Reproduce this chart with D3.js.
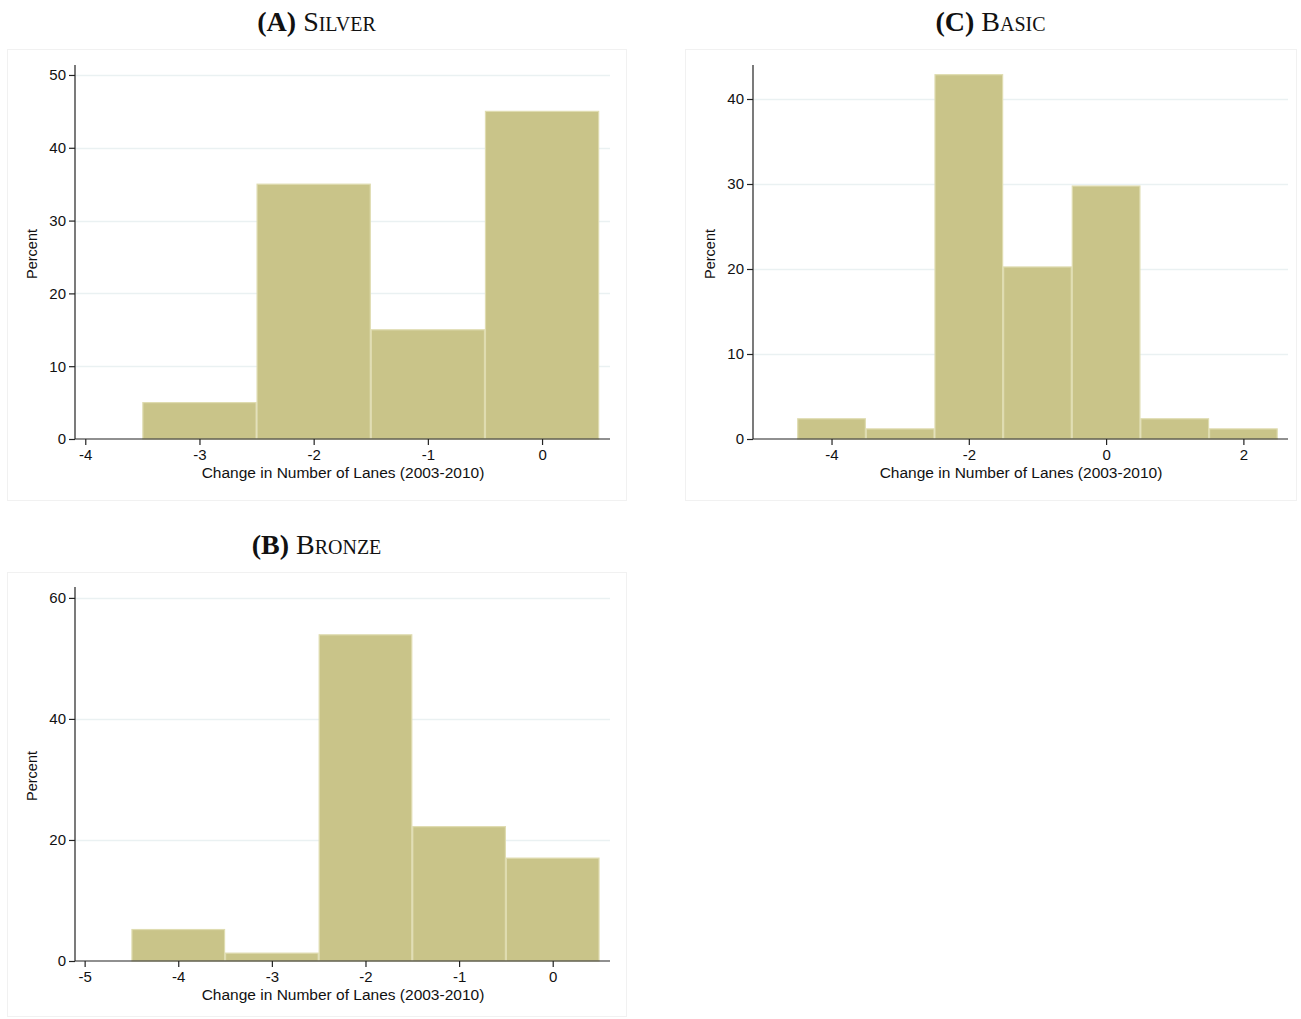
<!DOCTYPE html>
<html>
<head>
<meta charset="utf-8">
<script src="https://cdn.jsdelivr.net/npm/d3@7"></script>
<style>
  body { margin: 0; background: #fff; }
  svg { display: block; }
</style>
</head>
<body>
<script>
// Histogram data (percent of observations per bin, bins centred on integers)
const silverBins = [-3, -2, -1, 0];
const silverPct = [5, 35, 15, 45];

const bronzeBins = [-4, -3, -2, -1, 0];
const bronzePct = [5.2, 1.3, 53.9, 22.2, 17.0];

const basicBins = [-4, -3, -2, -1, 0, 1, 2];
const basicPct = [2.38, 1.19, 42.86, 20.24, 29.76, 2.38, 1.19];

const silverXTicks = [-4, -3, -2, -1, 0];
const bronzeXTicks = [-5, -4, -3, -2, -1, 0];
const basicXTicks = [-4, -2, 0, 2];

const silverYTicks = [0, 10, 20, 30, 40, 50];
const bronzeYTicks = [0, 20, 40, 60];
const basicYTicks = [0, 10, 20, 30, 40];

const xTitle = 'Change in Number of Lanes (2003-2010)';
const yTitle = 'Percent';

const barFill = '#c9c489';
const barEdge = '#dfdcb0';
const gridColor = '#eaf1f2';

const svg = d3.select('body')
    .append('svg')
    .attr('width', 1301)
    .attr('height', 1019);

function drawPanel(p) {
    const g = svg.append('g');

    // title: bold letter + small caps name
    const t = g.append('text')
        .attr('x', (p.box[0] + p.box[2]) / 2)
        .attr('y', p.box[1] - 18)
        .attr('text-anchor', 'middle')
        .style('font-family', '"Liberation Serif", "DejaVu Serif", serif')
        .style('font-size', '28px')
        .style('fill', '#111');
    t.append('tspan').style('font-weight', 'bold').text(p.letter);
    t.append('tspan').style('font-variant', 'small-caps').text(' ' + p.name);

    // faint outer frame of the graph region
    g.append('rect')
        .attr('x', p.box[0] + 0.5)
        .attr('y', p.box[1] + 0.5)
        .attr('width', p.box[2] - p.box[0])
        .attr('height', p.box[3] - p.box[1])
        .attr('fill', 'none')
        .attr('stroke', '#f1f1f1');

    const x = d3.scaleLinear().domain(p.xDomain).range([p.left, p.right]);
    const y = d3.scaleLinear().domain(p.yDomain).range([p.bottom, p.top]);

    // gridlines
    g.selectAll('.grid')
        .data(p.yTicks.filter(d => d > 0))
        .enter()
        .append('line')
        .attr('x1', p.left)
        .attr('x2', p.right)
        .attr('y1', d => Math.round(y(d)) + 0.5)
        .attr('y2', d => Math.round(y(d)) + 0.5)
        .attr('stroke', gridColor)
        .attr('stroke-width', 1.5);

    // bars
    g.selectAll('.bar')
        .data(p.bins.map((b, i) => ({ b: b, v: p.pct[i] })))
        .enter()
        .append('rect')
        .attr('x', d => x(d.b - 0.5) + 0.5)
        .attr('y', d => y(d.v))
        .attr('width', d => x(d.b + 0.5) - x(d.b - 0.5) - 1)
        .attr('height', d => y(0) - y(d.v))
        .attr('fill', barFill)
        .attr('stroke', barEdge)
        .attr('stroke-width', 1.2);

    // axes (plain hyphen for negatives, like the original)
    const fmt = d => String(d);
    const xAxis = d3.axisBottom(x)
        .tickValues(p.xTicks)
        .tickSize(6)
        .tickPadding(4)
        .tickFormat(fmt);
    const yAxis = d3.axisLeft(y)
        .tickValues(p.yTicks)
        .tickSize(6)
        .tickPadding(3)
        .tickFormat(fmt);

    const gx = g.append('g')
        .attr('transform', `translate(0,${p.bottom})`)
        .call(xAxis);
    const gy = g.append('g')
        .attr('transform', `translate(${p.left},0)`)
        .call(yAxis);

    [gx, gy].forEach(a => {
        a.select('.domain').attr('stroke', '#222').attr('stroke-width', 1.2);
        a.selectAll('.tick line').attr('stroke', '#222').attr('stroke-width', 1.2);
        a.selectAll('.tick text')
            .style('font-family', '"Liberation Sans", Arial, sans-serif')
            .style('font-size', '15px')
            .attr('fill', '#111');
    });
    // drop the outer ticks d3 draws at the domain ends
    gx.select('.domain').attr('d', `M${p.left},0H${p.right}`);
    gy.select('.domain').attr('d', `M0,${p.bottom}V${p.top}`);

    // axis titles
    g.append('text')
        .attr('x', (p.left + p.right) / 2 + 0.5)
        .attr('y', p.bottom + 39)
        .attr('text-anchor', 'middle')
        .style('font-family', '"Liberation Sans", Arial, sans-serif')
        .style('font-size', '15.5px')
        .attr('fill', '#111')
        .text(xTitle);

    g.append('text')
        .attr('transform', `translate(${p.left - 38},${(p.top + p.bottom) / 2 + 2}) rotate(-90)`)
        .attr('text-anchor', 'middle')
        .style('font-family', '"Liberation Sans", Arial, sans-serif')
        .style('font-size', '14.5px')
        .attr('fill', '#111')
        .text(yTitle);
}

drawPanel({
    letter: '(A)', name: 'Silver',
    box: [7, 49, 626, 500],
    left: 75, right: 610, top: 65, bottom: 439,
    xDomain: [-4.09, 0.595], yDomain: [0, 51.37],
    bins: silverBins, pct: silverPct,
    xTicks: silverXTicks, yTicks: silverYTicks
});

drawPanel({
    letter: '(C)', name: 'Basic',
    box: [685, 49, 1296, 500],
    left: 753, right: 1288, top: 65, bottom: 439,
    xDomain: [-5.144, 2.65], yDomain: [0, 44],
    bins: basicBins, pct: basicPct,
    xTicks: basicXTicks, yTicks: basicYTicks
});

drawPanel({
    letter: '(B)', name: 'Bronze',
    box: [7, 572, 626, 1016],
    left: 75, right: 610, top: 587, bottom: 961,
    xDomain: [-5.103, 0.612], yDomain: [0, 61.8],
    bins: bronzeBins, pct: bronzePct,
    xTicks: bronzeXTicks, yTicks: bronzeYTicks
});
</script>
</body>
</html>
